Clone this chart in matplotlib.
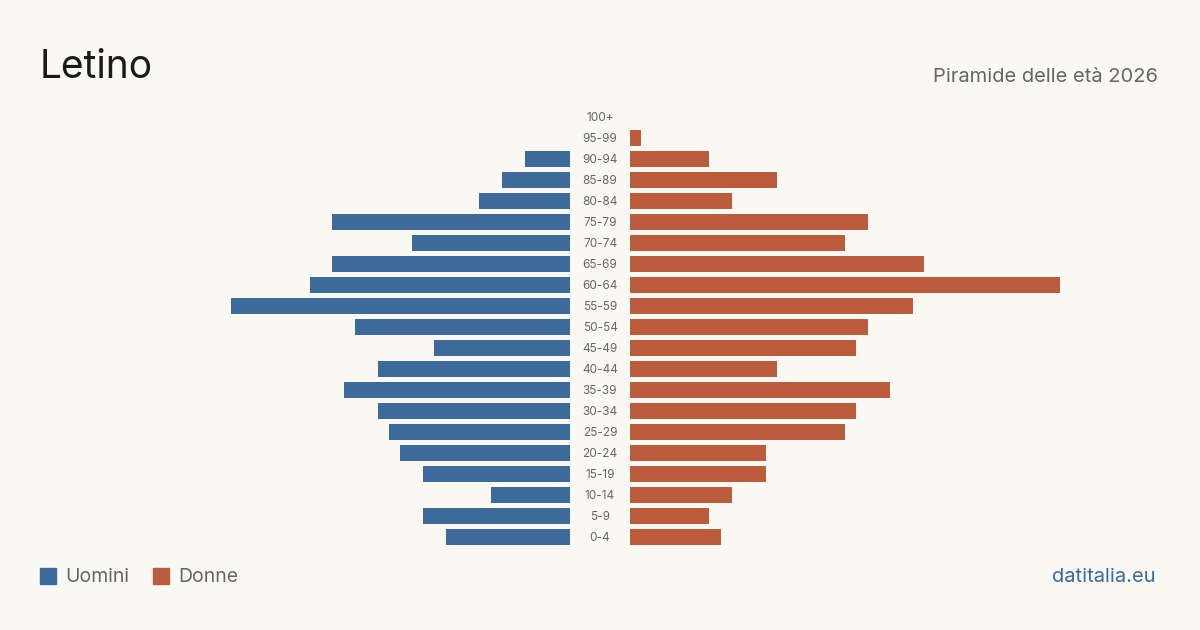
import matplotlib
matplotlib.use("Agg")
import matplotlib.pyplot as plt
from matplotlib.patches import Rectangle

ages = ["0-4", "5-9", "10-14", "15-19", "20-24", "25-29", "30-34", "35-39", "40-44",
        "45-49", "50-54", "55-59", "60-64", "65-69", "70-74", "75-79", "80-84",
        "85-89", "90-94", "95-99", "100+"]
men = [11, 13, 7, 13, 15, 16, 17, 20, 17, 12, 19, 30, 23, 21, 14, 21, 8, 6, 4, 0, 0]
women = [8, 7, 9, 12, 12, 19, 20, 23, 13, 20, 21, 25, 38, 26, 19, 21, 9, 13, 7, 1, 0]

BG = "#f9f8f3"
BLUE = "#3b6a9b"
ORANGE = "#bb5d3c"
GRAY = "#666666"
FONT = ["Inter", "DejaVu Sans"]
plt.rcParams["font.family"] = FONT

W, H = 1200, 630
fig = plt.figure(figsize=(12, 6.3), dpi=100, facecolor=BG)

xmax = 38
n = len(ages)
bottom = (H - 547.5) / H
height = 441 / H
axL = fig.add_axes([140 / W, bottom, 430 / W, height])
axR = fig.add_axes([630 / W, bottom, 430 / W, height])
ypos = list(range(n))
axL.barh(ypos, men, height=0.8, color=BLUE)
axR.barh(ypos, women, height=0.8, color=ORANGE)
for ax in (axL, axR):
    ax.set_facecolor("none")
    ax.set_ylim(-0.5, n - 0.5)
    ax.set_xlim(0, xmax)
    ax.axis("off")
axL.invert_xaxis()

for i, lab in enumerate(ages):
    axR.annotate(lab, xy=(0, i), xycoords=("axes fraction", "data"),
                 xytext=(-30, -1), textcoords="offset pixels",
                 ha="center", va="center", fontsize=8.5, color=GRAY)

fig.text(40 / W, 1 - 67 / H, "Letino", fontsize=28, color="#1a1a1a", ha="left", va="center")
fig.text(1158 / W, 1 - 77.5 / H, "Piramide delle età 2026", fontsize=14.5, color=GRAY,
         ha="right", va="center")

fig.patches.append(Rectangle((40 / W, 1 - 584 / H), 16 / W, 16 / H, transform=fig.transFigure,
                             color=BLUE))
fig.text(65 / W, 1 - 577 / H, "Uomini", fontsize=14, color=GRAY, ha="left", va="center")
fig.patches.append(Rectangle((153 / W, 1 - 584 / H), 16 / W, 16 / H, transform=fig.transFigure,
                             color=ORANGE))
fig.text(178 / W, 1 - 577 / H, "Donne", fontsize=14, color=GRAY, ha="left", va="center")
fig.text(1156 / W, 1 - 577 / H, "datitalia.eu", fontsize=14.5, color=BLUE, ha="right", va="center")

fig.savefig("out.png", dpi=100, facecolor=BG)
